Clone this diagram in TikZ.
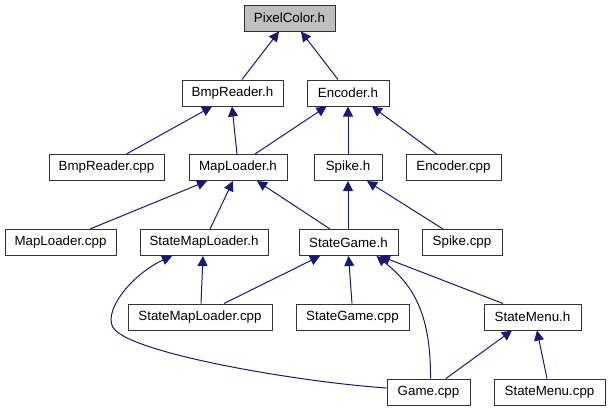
\documentclass[tikz,border=0pt]{standalone}
\usepackage{fontspec}
\setmainfont{Liberation Sans}
\usetikzlibrary{arrows.meta,calc}
\definecolor{edgeblue}{HTML}{191970}
\definecolor{boxgray}{HTML}{BFBFBF}
\begin{document}
\begin{tikzpicture}[x=0.75pt,y=-0.75pt,
  box/.style={draw=black!80, line width=0.75pt, fill=white, minimum height=19.5pt,
    inner sep=0pt, font=\fontsize{10}{12}\selectfont},
  edge/.style={draw=edgeblue, line width=0.75pt,
    -{Triangle[length=7.5pt,width=7.5pt]}}]
\useasboundingbox (0,0) rectangle (611,411);
% row 0
\node[box, fill=boxgray, minimum width=68.25pt] (pc) at (289.5,18) {PixelColor.h};
% row 1
\node[box, minimum width=75.75pt] (bh) at (232.5,93) {BmpReader.h};
\node[box, minimum width=61.5pt] (eh) at (348,93) {Encoder.h};
% row 2
\node[box, minimum width=86.25pt] (bcpp) at (106.5,167.5) {BmpReader.cpp};
\node[box, minimum width=73.5pt] (mh) at (238,167.5) {MapLoader.h};
\node[box, minimum width=51pt] (sh) at (348,167.5) {Spike.h};
\node[box, minimum width=71.25pt] (ecpp) at (453.5,167.5) {Encoder.cpp};
% row 3
\node[box, minimum width=83.25pt] (mcpp) at (60.5,242.5) {MapLoader.cpp};
\node[box, minimum width=96pt] (smlh) at (204,242.5) {StateMapLoader.h};
\node[box, minimum width=74.25pt] (sgh) at (348.5,242.5) {StateGame.h};
\node[box, minimum width=60pt] (scpp) at (462,242.5) {Spike.cpp};
% row 4
\node[box, minimum width=108pt] (smlcpp) at (200,317) {StateMapLoader.cpp};
\node[box, minimum width=84.75pt] (sgcpp) at (352.5,317) {StateGame.cpp};
\node[box, minimum width=72.75pt] (smh) at (532.5,317) {StateMenu.h};
% row 5
\node[box, minimum width=62.25pt] (gcpp) at (428.5,392) {Game.cpp};
\node[box, minimum width=83.25pt] (smcpp) at (549.5,392) {StateMenu.cpp};
% edges
\draw[edge] ($(bh.north)+(9.5,0)$) -- ($(pc.south)+(-10.5,0)$);
\draw[edge] ($(eh.north)+(-10,0)$) -- ($(pc.south)+(11.5,0)$);
\draw[edge] ($(bcpp.north)+(20,0)$) -- ($(bh.south)+(-20.5,0)$);
\draw[edge] ($(mh.north)+(-1,0)$) -- ($(bh.south)+(-0.5,0)$);
\draw[edge] ($(mh.north)+(17,0)$) -- ($(eh.south)+(-21.5,0)$);
\draw[edge] (sh.north) -- (eh.south);
\draw[edge] ($(ecpp.north)+(-17,0)$) -- ($(eh.south)+(24,0)$);
\draw[edge] ($(mcpp.north)+(29.5,0)$) -- ($(mh.south)+(-31,0)$);
\draw[edge] ($(smlh.north)+(6,0)$) -- ($(mh.south)+(-5,0)$);
\draw[edge] ($(sgh.north)+(-18.5,0)$) -- ($(mh.south)+(19,0)$);
\draw[edge] ($(sgh.north)+(-0.5,0)$) -- ($(sh.south)+(0,0)$);
\draw[edge] ($(scpp.north)+(-19,0)$) -- ($(sh.south)+(19,0)$);
\draw[edge] ($(smlcpp.north)+(1,0)$) -- ($(smlh.south)+(-1,0)$);
\draw[edge] ($(smlcpp.north)+(24,0)$) -- ($(sgh.south)+(-28.5,0)$);
\draw[edge] ($(sgcpp.north)+(-0.5,0)$) -- ($(sgh.south)+(0,0)$);
\draw[edge] ($(smh.north)+(-29.5,0)$) -- ($(sgh.south)+(31.5,0)$);
\draw[edge] ($(gcpp.north)+(2,0)$) .. controls (431,312) and (412,284) .. ($(sgh.south)+(28,0)$);
\draw[edge] ($(gcpp.west)+(0,-4)$) .. controls (300,382) and (140,355) .. (115,330)
  .. controls (100,315) and (130,275) .. ($(smlh.south)+(-32,0)$);
\draw[edge] ($(gcpp.north)+(17.5,0)$) -- ($(smh.south)+(-20.5,0)$);
\draw[edge] ($(smcpp.north)+(-2.5,0)$) -- ($(smh.south)+(4.5,0)$);
\end{tikzpicture}
\end{document}
